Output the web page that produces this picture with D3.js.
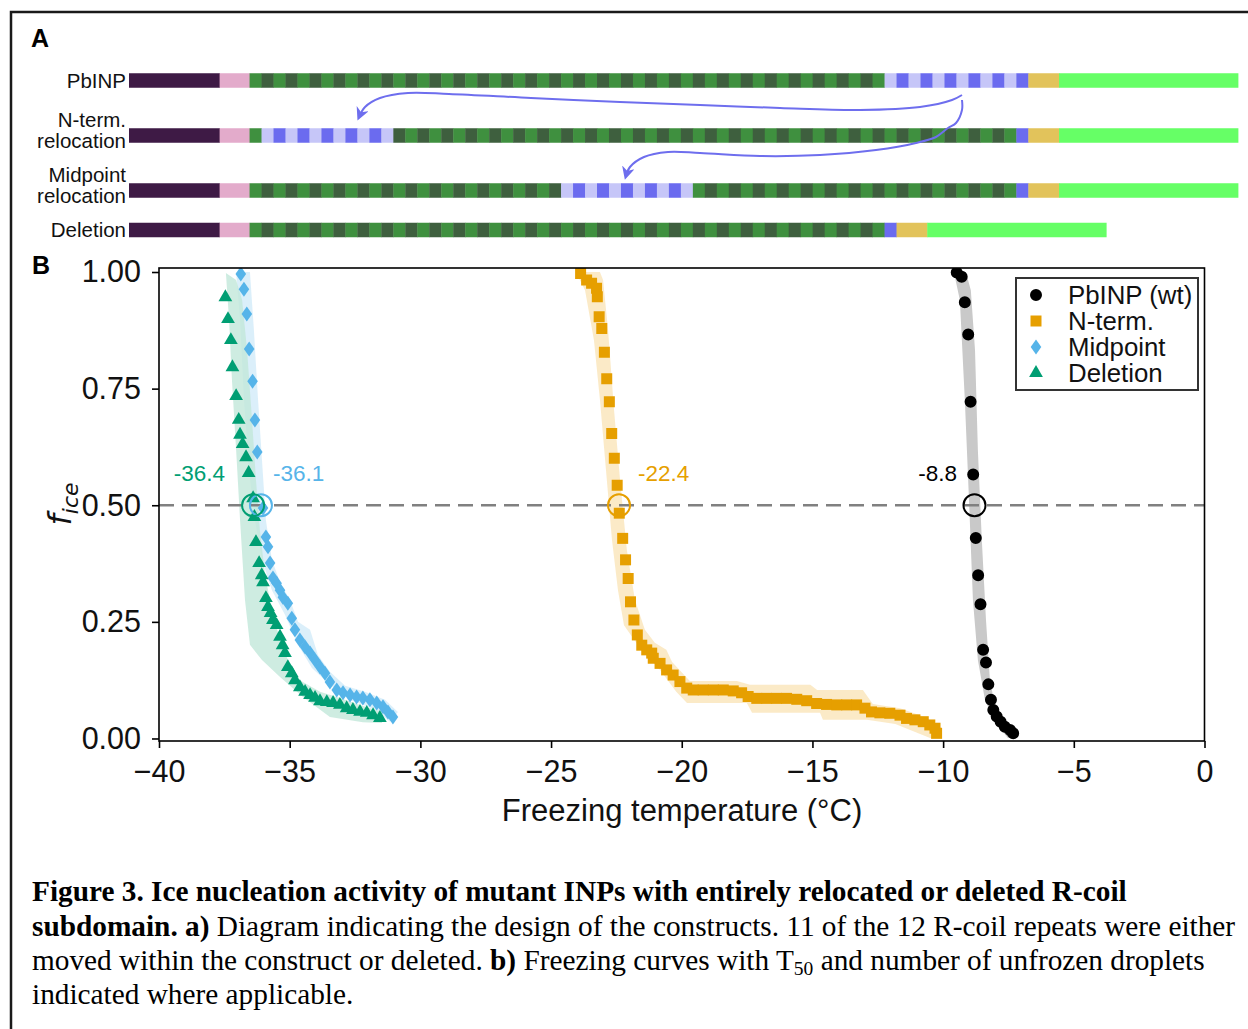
<!DOCTYPE html>
<html><head><meta charset="utf-8">
<script src="https://cdn.jsdelivr.net/npm/d3@7"></script>
<style>body{margin:0;background:#fff}svg{display:block}</style>
</head><body>
<script>
// ---------------- DATA ----------------
// Panel A: construct layout (lengths in residues)
const constructLabels = [["PbINP"], ["N-term.", "relocation"], ["Midpoint", "relocation"], ["Deletion"]];
const nTermLen = 121, linkerLen = 40, repeatLen = 16, capLen = 41, cTermLen = 239;
const greenRepeatCount = 53;           // repeats 0..52 = green, 53..64 = R-coil subdomain
const orderPbINP = d3.range(0, 65);
const orderNterm = [0, ...d3.range(53, 64), ...d3.range(1, 53), 64];
const orderMid = [...d3.range(0, 26), ...d3.range(53, 64), ...d3.range(26, 53), 64];
const orderDel = [...d3.range(0, 53), 64];
const constructOrders = [orderPbINP, orderNterm, orderMid, orderDel];
// arrows: [residue position, y px]
const arrow1 = [[1112.4,95],[1099.1,100],[1056.3,107],[976.2,110],[869.4,108],[762.5,105],[655.7,102],[536.8,98],[427.3,94],[372.6,93],[335.2,98],[315.2,107],[307.2,117]];
const arrow2 = [[1112.4,100],[1112.4,110],[1104.4,123],[1093.7,128],[1077.7,137],[1051.0,143],[997.6,150],[922.8,155],[842.7,156],[762.5,153],[719.8,152],[687.7,157],[669.0,167],[663.6,176]];

// Panel B: freezing curves
const seriesNames = ["PbINP (wt)", "N-term.", "Midpoint", "Deletion"];
const wtT = [-9.48,-9.29,-9.17,-9.04,-8.95,-8.85,-8.75,-8.66,-8.57,-8.47,-8.36,-8.27,-8.17,-8.08,-7.95,-7.80,-7.64,-7.44,-7.32];
const wtF = [0.999,0.990,0.935,0.866,0.722,0.566,0.430,0.350,0.288,0.190,0.163,0.116,0.083,0.061,0.047,0.036,0.025,0.018,0.011];
const ntT = [-23.87,-23.64,-23.45,-23.26,-23.23,-23.16,-23.06,-22.96,-22.87,-22.77,-22.68,-22.58,-22.47,-22.39,-22.26,-22.15,-22.05,-21.96,-21.83,-21.70,-21.53,-21.34,-21.15,-21.09,-20.83,-20.58,-20.33,-20.07,-19.81,-19.56,-19.18,-18.79,-18.41,-18.03,-17.71,-17.46,-17.13,-16.75,-16.37,-15.99,-15.60,-15.22,-14.84,-14.46,-14.07,-13.69,-13.31,-12.99,-12.74,-12.42,-12.04,-11.65,-11.40,-11.08,-10.76,-10.51,-10.31,-10.25];
const ntF = [0.997,0.983,0.976,0.965,0.947,0.904,0.879,0.828,0.771,0.722,0.654,0.601,0.543,0.483,0.429,0.383,0.343,0.293,0.254,0.222,0.200,0.190,0.183,0.172,0.161,0.147,0.136,0.122,0.108,0.104,0.104,0.104,0.104,0.102,0.098,0.090,0.086,0.086,0.086,0.086,0.084,0.081,0.075,0.073,0.072,0.072,0.072,0.065,0.057,0.055,0.054,0.050,0.043,0.040,0.036,0.029,0.022,0.011];
const midT = [-36.87,-36.75,-36.64,-36.55,-36.42,-36.33,-36.24,-36.02,-35.91,-35.83,-35.75,-35.64,-35.50,-35.37,-35.26,-35.07,-34.92,-34.80,-34.61,-34.41,-34.22,-34.03,-33.84,-33.65,-33.46,-33.20,-32.96,-32.69,-32.44,-32.20,-31.93,-31.67,-31.43,-31.24,-31.05];
const midF = [0.996,0.963,0.910,0.835,0.766,0.683,0.614,0.494,0.432,0.411,0.376,0.344,0.333,0.318,0.303,0.290,0.258,0.233,0.211,0.196,0.183,0.168,0.153,0.140,0.121,0.104,0.098,0.093,0.089,0.087,0.083,0.076,0.068,0.057,0.046];
const delT = [-37.46,-37.36,-37.25,-37.19,-37.05,-36.95,-36.90,-36.80,-36.67,-36.57,-36.40,-36.35,-36.29,-36.17,-36.07,-36.02,-35.91,-35.83,-35.73,-35.64,-35.50,-35.37,-35.27,-35.18,-35.07,-34.92,-34.80,-34.61,-34.41,-34.22,-34.03,-33.84,-33.58,-33.34,-33.08,-32.82,-32.58,-32.31,-32.05,-31.81,-31.55];
const delF = [0.946,0.899,0.854,0.796,0.734,0.683,0.651,0.631,0.603,0.569,0.515,0.475,0.421,0.376,0.350,0.335,0.301,0.282,0.269,0.254,0.243,0.218,0.200,0.183,0.153,0.140,0.125,0.110,0.100,0.093,0.087,0.080,0.078,0.076,0.072,0.065,0.061,0.057,0.055,0.050,0.044];
// uncertainty bands as outlines [T, f]
const wtBand = [[-9.59,1.0],[-9.36,0.940],[-9.17,0.726],[-9.01,0.511],[-8.86,0.297],[-8.67,0.168],[-8.40,0.083],[-8.02,0.035],[-7.52,0.001],[-7.18,0.008],[-7.64,0.035],[-8.02,0.072],[-8.21,0.125],[-8.36,0.254],[-8.52,0.426],[-8.67,0.618],[-8.78,0.833],[-8.94,0.961],[-9.13,1.0]];
const ntBand = [[-24.05,1.0],[-23.70,0.961],[-23.36,0.854],[-23.13,0.726],[-22.90,0.576],[-22.67,0.426],[-22.44,0.318],[-22.21,0.243],[-21.60,0.194],[-20.83,0.147],[-20.21,0.100],[-19.80,0.076],[-17.51,0.076],[-17.31,0.055],[-14.71,0.055],[-14.60,0.040],[-12.92,0.040],[-11.83,0.031],[-10.50,0.001],[-10.05,0.001],[-10.05,0.023],[-10.70,0.046],[-11.65,0.065],[-12.69,0.074],[-13.07,0.104],[-14.82,0.104],[-15.08,0.115],[-17.39,0.115],[-17.89,0.123],[-19.69,0.123],[-20.37,0.164],[-20.59,0.190],[-21.03,0.205],[-21.41,0.233],[-21.79,0.297],[-22.10,0.404],[-22.36,0.554],[-22.59,0.704],[-22.82,0.876],[-23.01,0.983],[-23.13,1.0]];
const midBand = [[-37.05,1.0],[-36.90,0.897],[-36.75,0.726],[-36.56,0.576],[-36.33,0.468],[-36.06,0.383],[-35.68,0.318],[-35.18,0.265],[-34.68,0.201],[-34.15,0.151],[-33.46,0.115],[-32.69,0.083],[-31.74,0.062],[-31.16,0.036],[-30.86,0.057],[-31.35,0.083],[-32.12,0.100],[-32.88,0.113],[-33.46,0.143],[-33.92,0.179],[-34.22,0.233],[-34.68,0.250],[-34.99,0.297],[-35.37,0.335],[-35.68,0.383],[-35.91,0.468],[-36.06,0.597],[-36.21,0.726],[-36.37,0.876],[-36.52,1.0]];
const delBand = [[-37.44,0.998],[-37.32,0.897],[-37.21,0.769],[-37.05,0.619],[-36.90,0.469],[-36.71,0.297],[-36.52,0.201],[-36.06,0.168],[-35.37,0.132],[-34.49,0.089],[-33.46,0.046],[-32.20,0.035],[-31.47,0.033],[-31.47,0.057],[-32.31,0.072],[-33.08,0.087],[-33.84,0.100],[-34.61,0.125],[-35.07,0.168],[-35.37,0.211],[-35.68,0.275],[-35.94,0.350],[-36.14,0.447],[-36.29,0.554],[-36.44,0.683],[-36.63,0.833],[-36.82,0.940],[-37.05,0.983]];
const t50Values = [-8.8, -22.4, -36.1, -36.4];
const t50Labels = ["-8.8", "-22.4", "-36.1", "-36.4"];
const xTicks = [-40, -35, -30, -25, -20, -15, -10, -5, 0];
const yTicks = [0, 0.25, 0.5, 0.75, 1.0];

// ---------------- STYLE ----------------
const sans = "'Liberation Sans', Arial, Helvetica, sans-serif";
const serif = "'Liberation Serif', 'Times New Roman', Times, serif";
const colPurple = "#3e1a45", colPink = "#e3abcb", colGL = "#3f903f", colGD = "#3e5f3e",
      colBL = "#c6c6f8", colBD = "#6b6bef", colGold = "#e2c35b", colCterm = "#66ff66", colArrow = "#6e6eee";
const seriesColors = ["#000000", "#e69f00", "#56b4e9", "#009e73"];
const bandFills = ["#c9c9c9", "#fae6bd", "#cfe9f8", "#c2e7da"];
const bandOpac = [1, 0.85, 0.75, 0.8];

const svg = d3.select("body").append("svg").attr("width", 1248).attr("height", 1029);
svg.append("rect").attr("width", 1248).attr("height", 1029).attr("fill", "#fff");
// outer frame
svg.append("rect").attr("x", 11).attr("y", 12).attr("width", 1260).attr("height", 1040)
  .attr("fill", "none").attr("stroke", "#1a1a1a").attr("stroke-width", 2.5);

// ---------------- PANEL A ----------------
svg.append("text").attr("x", 31).attr("y", 47).attr("font-family", sans).attr("font-weight", "bold")
  .attr("font-size", 25).text("A");
const totalLen = nTermLen + linkerLen + 65 * repeatLen + capLen + cTermLen;
const xA = d3.scaleLinear().domain([0, totalLen]).range([129, 1238]);
const rowCenters = [80.5, 135.5, 190.5, 230];
const barH = 14.5;

function segmentsFor(order) {
  const segs = [];
  let pos = 0;
  segs.push({ s: pos, l: nTermLen, c: colPurple }); pos += nTermLen;
  segs.push({ s: pos, l: linkerLen, c: colPink }); pos += linkerLen;
  order.forEach(i => {
    const c = i < greenRepeatCount ? (i % 2 === 0 ? colGL : colGD) : (i % 2 === 1 ? colBL : colBD);
    segs.push({ s: pos, l: repeatLen, c }); pos += repeatLen;
  });
  segs.push({ s: pos, l: capLen, c: colGold }); pos += capLen;
  segs.push({ s: pos, l: cTermLen, c: colCterm });
  return segs;
}

constructOrders.forEach((order, r) => {
  const g = svg.append("g");
  g.selectAll("rect").data(segmentsFor(order)).join("rect")
    .attr("x", d => xA(d.s)).attr("width", d => xA(d.s + d.l) - xA(d.s) + 0.4)
    .attr("y", rowCenters[r] - barH / 2).attr("height", barH).attr("fill", d => d.c);
  const lines = constructLabels[r];
  const t = svg.append("text").attr("font-family", sans).attr("font-size", 20.5).attr("text-anchor", "end").attr("fill", "#111");
  if (lines.length === 1) {
    t.append("tspan").attr("x", 126).attr("y", rowCenters[r] + 7.3).text(lines[0]);
  } else {
    t.append("tspan").attr("x", 126).attr("y", rowCenters[r] - 8.5).text(lines[0]);
    t.append("tspan").attr("x", 126).attr("y", rowCenters[r] + 12.5).text(lines[1]);
  }
});

const defs = svg.append("defs");
defs.append("marker").attr("id", "ah").attr("viewBox", "0 0 10 10").attr("refX", 7).attr("refY", 5)
  .attr("markerWidth", 13).attr("markerHeight", 13).attr("markerUnits", "userSpaceOnUse").attr("orient", "auto")
  .append("path").attr("d", "M0,0 L10,5 L0,10 L3,5 Z").attr("fill", colArrow);
const arrowLine = d3.line().x(d => xA(d[0])).y(d => d[1]).curve(d3.curveCatmullRom);
[arrow1, arrow2].forEach(a => {
  svg.append("path").attr("d", arrowLine(a)).attr("fill", "none").attr("stroke", colArrow)
    .attr("stroke-width", 2).attr("marker-end", "url(#ah)");
});

// ---------------- PANEL B ----------------
svg.append("text").attr("x", 32).attr("y", 274).attr("font-family", sans).attr("font-weight", "bold")
  .attr("font-size", 25).text("B");
const x = d3.scaleLinear().domain([-40, 0]).range([159, 1204.5]);
const y = d3.scaleLinear().domain([-0.0054, 1.0086]).range([741, 268]);

defs.append("clipPath").attr("id", "plotclip").append("rect")
  .attr("x", x(-40)).attr("y", y(1.0086)).attr("width", x(0) - x(-40)).attr("height", y(-0.0054) - y(1.0086));

const plot = svg.append("g").attr("clip-path", "url(#plotclip)");
const bands = [wtBand, ntBand, midBand, delBand];
const poly = d3.line().x(d => x(d[0])).y(d => y(d[1])).curve(d3.curveLinearClosed);
bands.forEach((b, i) => {
  plot.append("path").attr("d", poly(b)).attr("fill", bandFills[i]).attr("fill-opacity", bandOpac[i]);
});

// dashed 50% line
plot.append("line").attr("x1", x(-40)).attr("x2", x(0)).attr("y1", y(0.5)).attr("y2", y(0.5))
  .attr("stroke", "#808080").attr("stroke-width", 2.5).attr("stroke-dasharray", "15,8");

const diamondPath = "M0,-7.5 L5.3,0 L0,7.5 L-5.3,0 Z";
const markerPaths = [
  d3.symbol(d3.symbolCircle, 113)(),
  d3.symbol(d3.symbolSquare, 121)(),
  diamondPath,
  d3.symbol(d3.symbolTriangle, 82)()
];
const seriesT = [wtT, ntT, midT, delT];
const seriesF = [wtF, ntF, midF, delF];
seriesT.forEach((ts, i) => {
  const pts = ts.map((t, k) => [t, seriesF[i][k]]);
  plot.append("g").selectAll("path").data(pts).join("path")
    .attr("d", markerPaths[i])
    .attr("transform", d => `translate(${x(d[0])},${y(d[1])})`)
    .attr("fill", seriesColors[i]);
});

// T50 circles and labels
const labelDx = [-17.5, 19, 12, -28];
const labelAnchor = ["end", "start", "start", "end"];
t50Values.forEach((v, i) => {
  svg.append("circle").attr("cx", x(v)).attr("cy", y(0.5)).attr("r", 11)
    .attr("fill", "none").attr("stroke", seriesColors[i]).attr("stroke-width", 2);
  svg.append("text").attr("x", x(v) + labelDx[i]).attr("y", y(0.5) - 24)
    .attr("text-anchor", labelAnchor[i]).attr("font-family", sans).attr("font-size", 22.5)
    .attr("fill", seriesColors[i]).text(t50Labels[i]);
});

// frame
svg.append("rect").attr("x", x(-40)).attr("y", y(1.0086)).attr("width", x(0) - x(-40))
  .attr("height", y(-0.0054) - y(1.0086)).attr("fill", "none").attr("stroke", "#000").attr("stroke-width", 1.6);

// axes
const xAxis = svg.append("g").attr("transform", `translate(0,${y(-0.0054)})`)
  .call(d3.axisBottom(x).tickValues(xTicks).tickSize(7).tickPadding(12).tickFormat(d3.format("d")));
const yAxis = svg.append("g").attr("transform", `translate(${x(-40)},0)`)
  .call(d3.axisLeft(y).tickValues(yTicks).tickSize(7).tickPadding(11).tickFormat(d3.format(".2f")));
[xAxis, yAxis].forEach(a => {
  a.select(".domain").remove();
  a.selectAll("line").attr("stroke", "#000").attr("stroke-width", 1.6);
  a.selectAll("text").attr("font-family", sans).attr("font-size", 30.5).attr("fill", "#111");
});

svg.append("text").attr("x", 682).attr("y", 821).attr("text-anchor", "middle")
  .attr("font-family", sans).attr("font-size", 31).attr("fill", "#111").text("Freezing temperature (°C)");
const yl = svg.append("text").attr("transform", "translate(71,504) rotate(-90)").attr("text-anchor", "middle")
  .attr("font-family", "'DejaVu Sans', sans-serif").attr("font-style", "italic").attr("fill", "#111");
yl.append("tspan").attr("font-size", 32).text("f");
yl.append("tspan").attr("font-size", 22).attr("dy", 7).text("ice");

// legend
const lg = svg.append("g");
lg.append("rect").attr("x", 1016).attr("y", 278).attr("width", 182).attr("height", 112)
  .attr("fill", "#fff").attr("stroke", "#333").attr("stroke-width", 2);
seriesNames.forEach((n, i) => {
  const cy = 295 + i * 26;
  lg.append("path").attr("d", markerPaths[i]).attr("transform", `translate(1036,${cy})`).attr("fill", seriesColors[i]);
  lg.append("text").attr("x", 1068).attr("y", cy + 9.3).attr("font-family", sans).attr("font-size", 25.8)
    .attr("fill", "#111").text(n);
});

// ---------------- CAPTION ----------------
const cap = svg.append("g").attr("font-family", serif).attr("font-size", 29.3).attr("fill", "#000");
const l1 = cap.append("text").attr("x", 32).attr("y", 901);
l1.append("tspan").attr("font-weight", "bold").text("Figure 3. Ice nucleation activity of mutant INPs with entirely relocated or deleted R-coil");
const l2 = cap.append("text").attr("x", 32).attr("y", 935.5);
l2.append("tspan").attr("font-weight", "bold").text("subdomain. a)");
l2.append("tspan").text(" Diagram indicating the design of the constructs. 11 of the 12 R-coil repeats were either");
const l3 = cap.append("text").attr("x", 32).attr("y", 970);
l3.append("tspan").text("moved within the construct or deleted. ");
l3.append("tspan").attr("font-weight", "bold").text("b)");
l3.append("tspan").text(" Freezing curves with T");
l3.append("tspan").attr("font-size", 19.5).attr("dy", 5).text("50");
l3.append("tspan").attr("dy", -5).text(" and number of unfrozen droplets");
const l4 = cap.append("text").attr("x", 32).attr("y", 1004);
l4.append("tspan").text("indicated where applicable.");
</script>
</body></html>
